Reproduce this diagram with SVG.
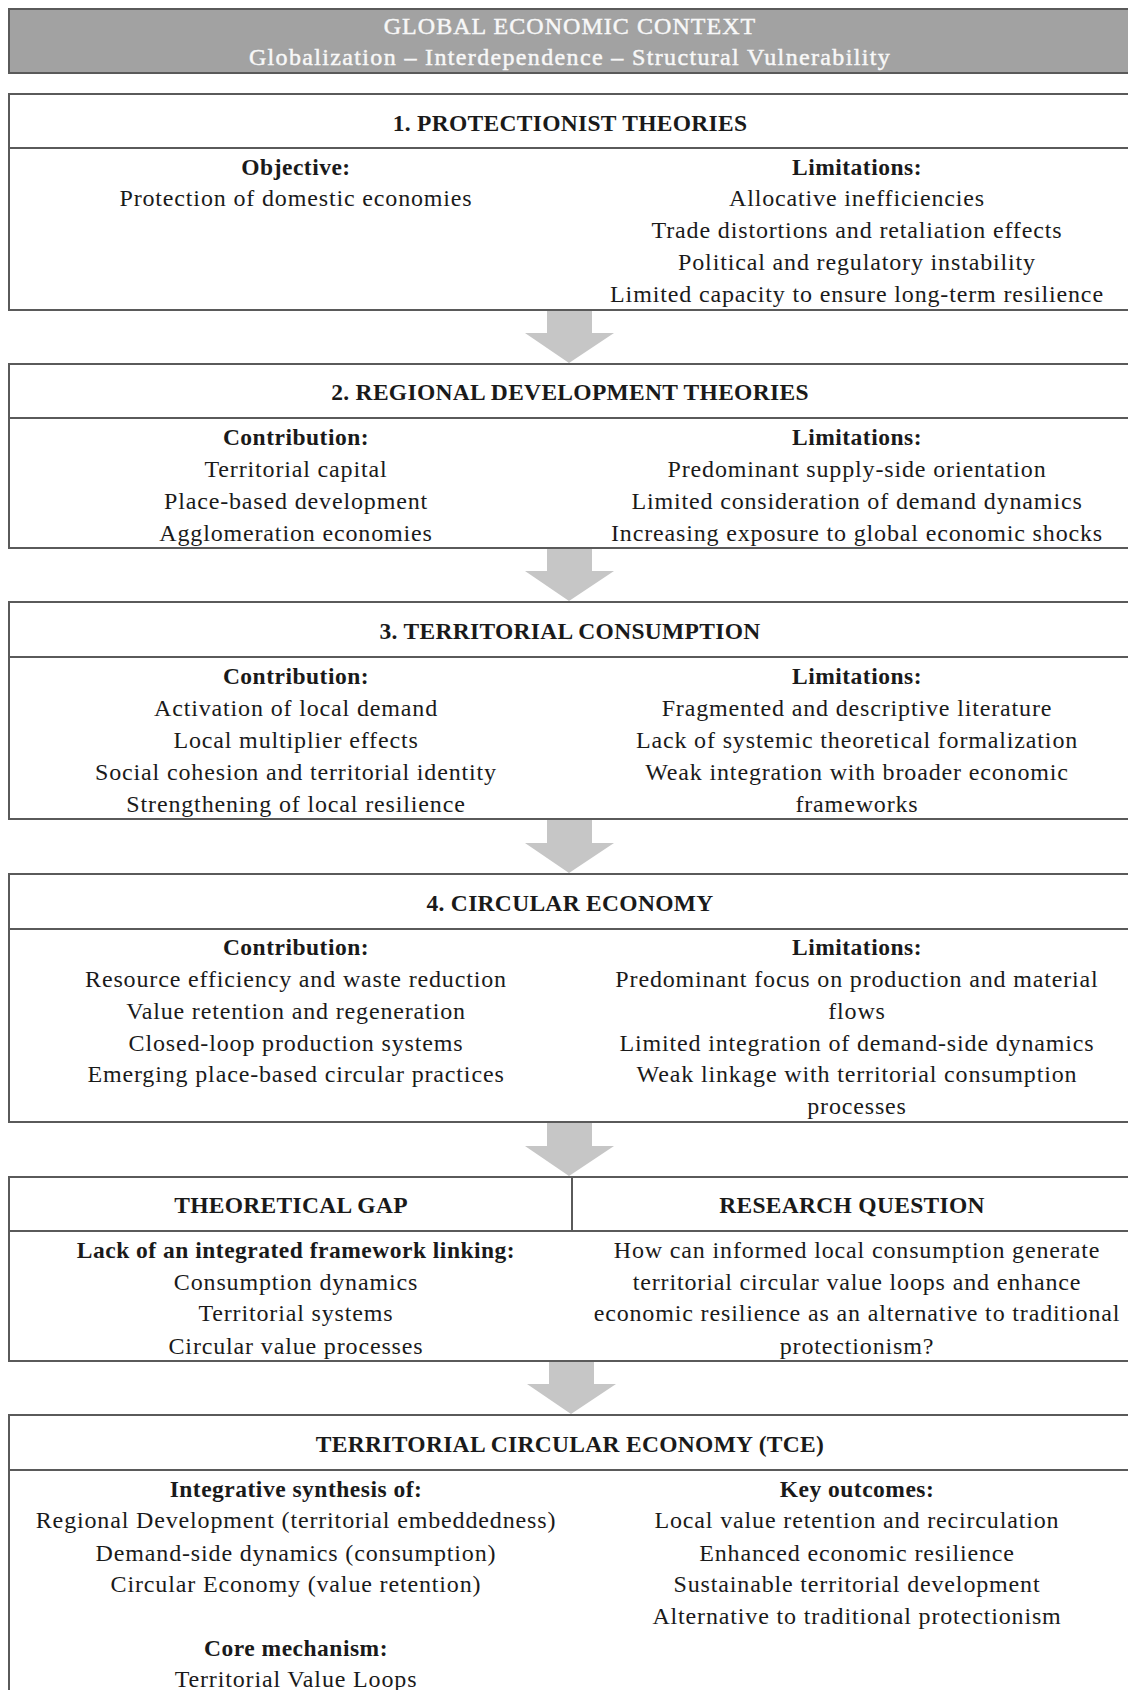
<svg xmlns="http://www.w3.org/2000/svg" width="1128" height="1690" viewBox="0 0 1128 1690">
<defs>
<style>
.box{fill:#ffffff;stroke:#5a5a5a;stroke-width:2}
.sep{stroke:#5a5a5a;stroke-width:2;fill:none}
.t{font-family:"Liberation Serif","Times New Roman",serif;font-size:24px;letter-spacing:0.85px;fill:#1a1a1a;text-anchor:middle}
.b{font-weight:bold;font-size:23.5px;letter-spacing:0.5px}
.ti{letter-spacing:0.3px}
.h{font-family:"Liberation Serif","Times New Roman",serif;font-size:24px;fill:#f8f8f8;stroke:#f8f8f8;stroke-width:0.45;text-anchor:middle}
.arr{fill:#c6c6c6;stroke:none}
</style>
</defs>
<rect x="0" y="0" width="1128" height="1690" fill="#ffffff"/>

<g id="context">
<rect x="9" y="9" width="1125" height="64" fill="#a2a2a2" stroke="#5a5a5a" stroke-width="2"/>
<text class="h" x="570" y="34" letter-spacing="1.05">GLOBAL ECONOMIC CONTEXT</text>
<text class="h" x="570" y="65" letter-spacing="1.35">Globalization – Interdependence – Structural Vulnerability</text>
</g>

<g id="connectors">
<polygon class="arr" points="547,310 592,310 592,333 614,333 569,363 525,333 547,333"/>
<polygon class="arr" points="547,548 592,548 592,571 614,571 569,601 525,571 547,571"/>
<polygon class="arr" points="547,819 592,819 592,843 614,843 569,873 525,843 547,843"/>
<polygon class="arr" points="547,1122 592,1122 592,1146 614,1146 569,1176 525,1146 547,1146"/>
<polygon class="arr" points="549,1361 594,1361 594,1384 616,1384 571,1414 527,1384 549,1384"/>
</g>

<g id="protectionist">
<rect class="box" x="9" y="94" width="1125" height="216"/>
<line class="sep" x1="9" y1="148" x2="1134" y2="148"/>
<text class="t b ti" x="570" y="131">1. PROTECTIONIST THEORIES</text>
<text class="t b" x="296" y="175">Objective:</text>
<text class="t" x="296" y="206">Protection of domestic economies</text>
<text class="t b" x="857" y="175">Limitations:</text>
<text class="t" x="857" y="206">Allocative inefficiencies</text>
<text class="t" x="857" y="238">Trade distortions and retaliation effects</text>
<text class="t" x="857" y="270">Political and regulatory instability</text>
<text class="t" x="857" y="302">Limited capacity to ensure long-term resilience</text>
</g>

<g id="regional">
<rect class="box" x="9" y="364" width="1125" height="184"/>
<line class="sep" x1="9" y1="418" x2="1134" y2="418"/>
<text class="t b ti" x="570" y="400">2. REGIONAL DEVELOPMENT THEORIES</text>
<text class="t b" x="296" y="445">Contribution:</text>
<text class="t" x="296" y="477">Territorial capital</text>
<text class="t" x="296" y="509">Place-based development</text>
<text class="t" x="296" y="541">Agglomeration economies</text>
<text class="t b" x="857" y="445">Limitations:</text>
<text class="t" x="857" y="477">Predominant supply-side orientation</text>
<text class="t" x="857" y="509">Limited consideration of demand dynamics</text>
<text class="t" x="857" y="541">Increasing exposure to global economic shocks</text>
</g>

<g id="territorial-consumption">
<rect class="box" x="9" y="602" width="1125" height="217"/>
<line class="sep" x1="9" y1="657" x2="1134" y2="657"/>
<text class="t b ti" x="570" y="639">3. TERRITORIAL CONSUMPTION</text>
<text class="t b" x="296" y="684">Contribution:</text>
<text class="t" x="296" y="716">Activation of local demand</text>
<text class="t" x="296" y="748">Local multiplier effects</text>
<text class="t" x="296" y="780">Social cohesion and territorial identity</text>
<text class="t" x="296" y="812">Strengthening of local resilience</text>
<text class="t b" x="857" y="684">Limitations:</text>
<text class="t" x="857" y="716">Fragmented and descriptive literature</text>
<text class="t" x="857" y="748">Lack of systemic theoretical formalization</text>
<text class="t" x="857" y="780">Weak integration with broader economic</text>
<text class="t" x="857" y="812">frameworks</text>
</g>

<g id="circular-economy">
<rect class="box" x="9" y="874" width="1125" height="248"/>
<line class="sep" x1="9" y1="929" x2="1134" y2="929"/>
<text class="t b ti" x="570" y="911">4. CIRCULAR ECONOMY</text>
<text class="t b" x="296" y="955">Contribution:</text>
<text class="t" x="296" y="987">Resource efficiency and waste reduction</text>
<text class="t" x="296" y="1019">Value retention and regeneration</text>
<text class="t" x="296" y="1051">Closed-loop production systems</text>
<text class="t" x="296" y="1082">Emerging place-based circular practices</text>
<text class="t b" x="857" y="955">Limitations:</text>
<text class="t" x="857" y="987">Predominant focus on production and material</text>
<text class="t" x="857" y="1019">flows</text>
<text class="t" x="857" y="1051">Limited integration of demand-side dynamics</text>
<text class="t" x="857" y="1082">Weak linkage with territorial consumption</text>
<text class="t" x="857" y="1114">processes</text>
</g>

<g id="gap-question">
<rect class="box" x="9" y="1177" width="1125" height="184"/>
<line class="sep" x1="9" y1="1231" x2="1134" y2="1231"/>
<line class="sep" x1="572" y1="1177" x2="572" y2="1231"/>
<text class="t b ti" x="291" y="1213">THEORETICAL GAP</text>
<text class="t b ti" x="852" y="1213">RESEARCH QUESTION</text>
<text class="t b" x="296" y="1258">Lack of an integrated framework linking:</text>
<text class="t" x="296" y="1290">Consumption dynamics</text>
<text class="t" x="296" y="1321">Territorial systems</text>
<text class="t" x="296" y="1354">Circular value processes</text>
<text class="t" x="857" y="1258">How can informed local consumption generate</text>
<text class="t" x="857" y="1290">territorial circular value loops and enhance</text>
<text class="t" x="857" y="1321">economic resilience as an alternative to traditional</text>
<text class="t" x="857" y="1354">protectionism?</text>
</g>

<g id="tce">
<rect class="box" x="9" y="1415" width="1125" height="300"/>
<line class="sep" x1="9" y1="1470" x2="1134" y2="1470"/>
<text class="t b ti" x="570" y="1452">TERRITORIAL CIRCULAR ECONOMY (TCE)</text>
<text class="t b" x="296" y="1497">Integrative synthesis of:</text>
<text class="t" x="296" y="1528">Regional Development (territorial embeddedness)</text>
<text class="t" x="296" y="1561">Demand-side dynamics (consumption)</text>
<text class="t" x="296" y="1592">Circular Economy (value retention)</text>
<text class="t b" x="296" y="1656">Core mechanism:</text>
<text class="t" x="296" y="1687">Territorial Value Loops</text>
<text class="t b" x="857" y="1497">Key outcomes:</text>
<text class="t" x="857" y="1528">Local value retention and recirculation</text>
<text class="t" x="857" y="1561">Enhanced economic resilience</text>
<text class="t" x="857" y="1592">Sustainable territorial development</text>
<text class="t" x="857" y="1624">Alternative to traditional protectionism</text>
</g>
</svg>
